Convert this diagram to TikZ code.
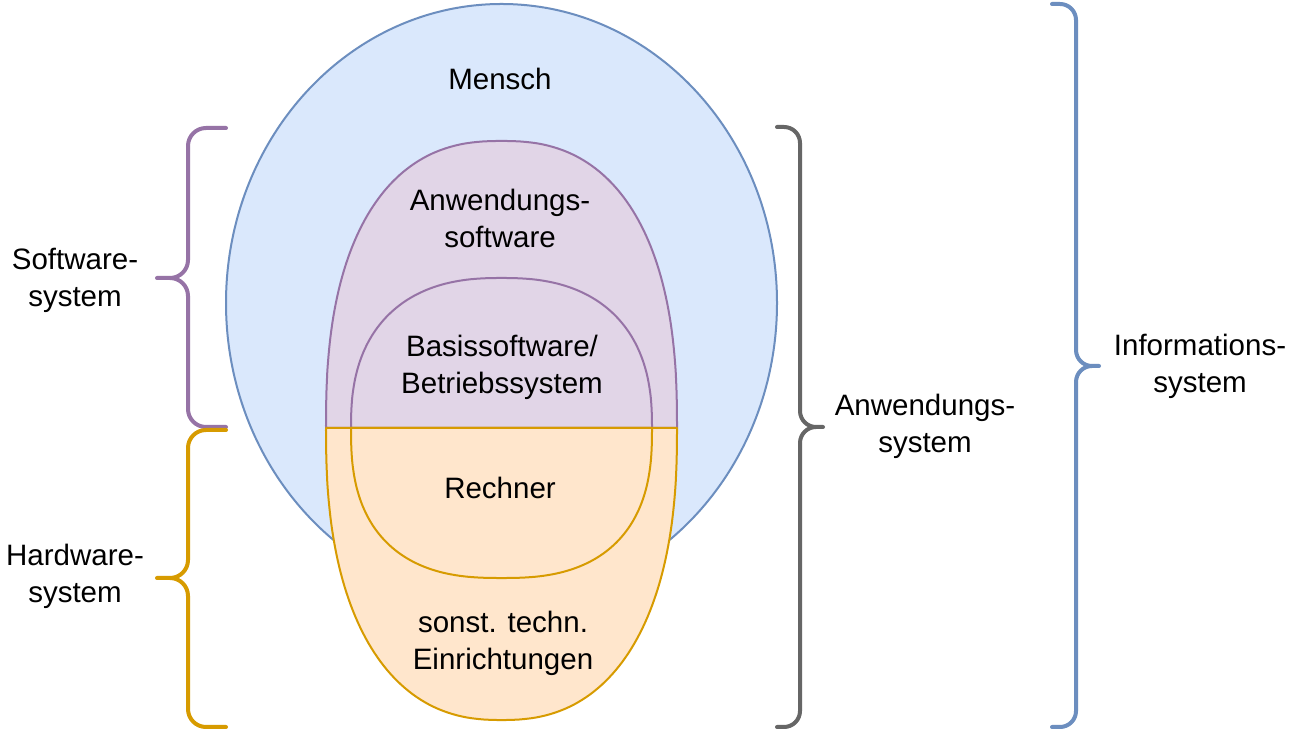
\documentclass[tikz,border=0pt]{standalone}
\usepackage{fontspec}
\setmainfont{Liberation Sans}
\definecolor{bluefill}{HTML}{DAE8FC}
\definecolor{bluedraw}{HTML}{6C8EBF}
\definecolor{purplefill}{HTML}{E1D5E7}
\definecolor{purpledraw}{HTML}{9673A6}
\definecolor{orangefill}{HTML}{FFE6CC}
\definecolor{orangedraw}{HTML}{D79B00}
\definecolor{graydraw}{HTML}{666666}
% left brace (opens to the right): colour, end x, spine x, tip x, top y, tip y, bottom y
\newcommand\mybraceL[7]{%
  \draw[brace,#1] (#2,#5) -- ({#3+18},#5) arc[start angle=90,end angle=180,radius=18]
    -- (#3,{#6+18}) arc[start angle=0,end angle=-90,radius=18] -- (#4,#6)
    -- ({#3-18},#6) arc[start angle=90,end angle=0,radius=18]
    -- (#3,{#7+18}) arc[start angle=180,end angle=270,radius=18] -- (#2,#7);}
% right brace (opens to the left)
\newcommand\mybraceR[7]{%
  \draw[brace,#1] (#2,#5) -- ({#3-16},#5) arc[start angle=90,end angle=0,radius=16]
    -- (#3,{#6+16}) arc[start angle=180,end angle=270,radius=16] -- (#4,#6)
    -- ({#3+16},#6) arc[start angle=90,end angle=180,radius=16]
    -- (#3,{#7+16}) arc[start angle=0,end angle=-90,radius=16] -- (#2,#7);}
% half super-ellipse: draw opts, centre x, base y, x radius, signed y radius, exponent 2/n
\newcommand\mydome[6]{%
  \draw[#1] ({#2+#4},#3) -- plot[domain=0.2:179.8,samples=120,variable=\t]
    ({#2+#4*sign(cos(\t))*pow(abs(cos(\t)),#6)},{#3+#5*pow(sin(\t),#6)})
    -- ({#2-#4},#3) -- cycle;}
\begin{document}
\begin{tikzpicture}[x=1pt,y=1pt,
  shapeline/.style={line width=2pt,line join=round},
  brace/.style={line width=4pt,line cap=round,line join=round},
  lbl/.style={align=center,inner sep=0pt,font=\fontsize{29.5}{37}\selectfont}]
\useasboundingbox (0,0) rectangle (1303,730);
\fill[white] (0,0) rectangle (1303,730);
% Mensch ellipse
\draw[shapeline,draw=bluedraw,fill=bluefill] (501.5,427) ellipse[x radius=275.5,y radius=299];
% software domes
\mydome{shapeline,draw=purpledraw,fill=purplefill}{501.5}{302}{175.5}{287}{0.82}
\mydome{shapeline,draw=purpledraw,fill=purplefill}{501.5}{302}{150.5}{150}{0.82}
% hardware bowls
\mydome{shapeline,draw=orangedraw,fill=orangefill}{501.5}{302}{175.5}{-292}{0.84}
\mydome{shapeline,draw=orangedraw,fill=orangefill}{501.5}{302}{150.5}{-150}{0.78}
% labels
\node[lbl] (mensch) at (500,651) {Mensch};
\node[lbl] (aws) at (500,512) {Anwendungs-\\software};
\node[lbl] (bss) at (502,363) {Basissoftware/\\Betriebssystem};
\node[lbl] (rech) at (500,242) {Rechner};
\node[lbl] (sonst) at (503,87) {sonst. techn.\\Einrichtungen};
\node[lbl] (sws) at (75,450) {Software-\\system};
\node[lbl] (hws) at (75,154) {Hardware-\\system};
\node[lbl] (anws) at (925,304) {Anwendungs-\\system};
\node[lbl] (infs) at (1200,364) {Informations-\\system};
% braces
\mybraceL{purpledraw}{226}{188}{157}{602}{452}{303}
\mybraceL{orangedraw}{226}{188}{157}{300}{152}{3}
\mybraceR{graydraw}{777}{800}{823}{603}{303}{3}
\mybraceR{bluedraw}{1052}{1076}{1099}{726}{364}{3}
\end{tikzpicture}
\end{document}
